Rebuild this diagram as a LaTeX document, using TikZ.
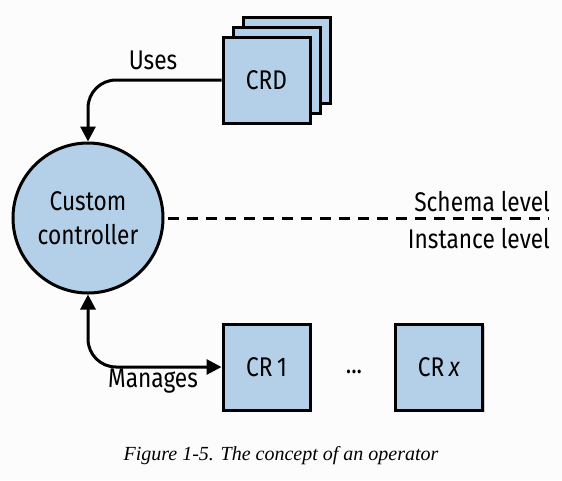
\documentclass[tikz,border=0pt]{standalone}
\usepackage{fontspec}
\setmainfont{Fira Sans}[FakeStretch=0.84]
\newfontfamily\capfont{Liberation Serif}
\usetikzlibrary{arrows.meta,shadows}
\definecolor{boxfill}{HTML}{B4D0E8}
\definecolor{paper}{HTML}{FCFCFC}
\tikzset{
  x=1pt, y=-1pt,
  objbox/.style={draw=black, line width=3pt, fill=boxfill, minimum width=87pt, minimum height=86pt,
    inner sep=0pt, font=\fontsize{27}{30}\selectfont,
    drop shadow={shadow xshift=2pt, shadow yshift=-2pt, opacity=0.18, fill=black}},
  ctrl/.style={circle, draw=black, line width=3pt, fill=boxfill, minimum size=150pt, inner sep=0pt,
    align=center, font=\fontsize{27}{34}\selectfont},
  conn/.style={line width=3pt, rounded corners=28pt},
  tip/.tip={Triangle[width=15pt,length=15pt]},
  lbl/.style={font=\fontsize{27}{30}\selectfont, inner sep=0pt},
}
\begin{document}
\begin{tikzpicture}
\fill[paper] (0,0) rectangle (562,480);
\useasboundingbox (0,0) rectangle (562,480);

% controller
\node[ctrl] (cc) at (88,218) {Custom\\controller};

% stacked CRD boxes
\node[objbox] (crd3) at (286.5,60) {};
\node[objbox] (crd2) at (276.5,70) {};
\node[objbox] (crd) at (266.5,80) {CRD};

% custom resources
\node[objbox] (cr1) at (266.5,367) {CR\,1};
\node[objbox] (crx) at (439,367) {CR\,\textit{x}};
\node[lbl] (dots) at (354,372) {...};

% connectors
\draw[conn, -tip] (crd.west) -| (cc.north);
\draw[conn, tip-tip] (cc.south) |- (cr1.west);
\node[lbl] (uses) at (153,60) {Uses};
\node[lbl, anchor=north] (manages) at (153,369) {Manages};

% level separator
\coordinate (sepL) at (168,218);
\coordinate (sepR) at (549,218);
\draw[line width=3pt, dash pattern=on 11pt off 8pt] (sepL) -- (sepR);
\node[lbl, anchor=base east] (schema) at (550,211) {Schema level};
\node[lbl, anchor=base east] (inst) at (550,248) {Instance level};

% caption
\node[font=\capfont\itshape\fontsize{20}{22}\selectfont, inner sep=0pt] (cap) at (281,456)
  {Figure 1-5. The concept of an operator};
\end{tikzpicture}
\end{document}
